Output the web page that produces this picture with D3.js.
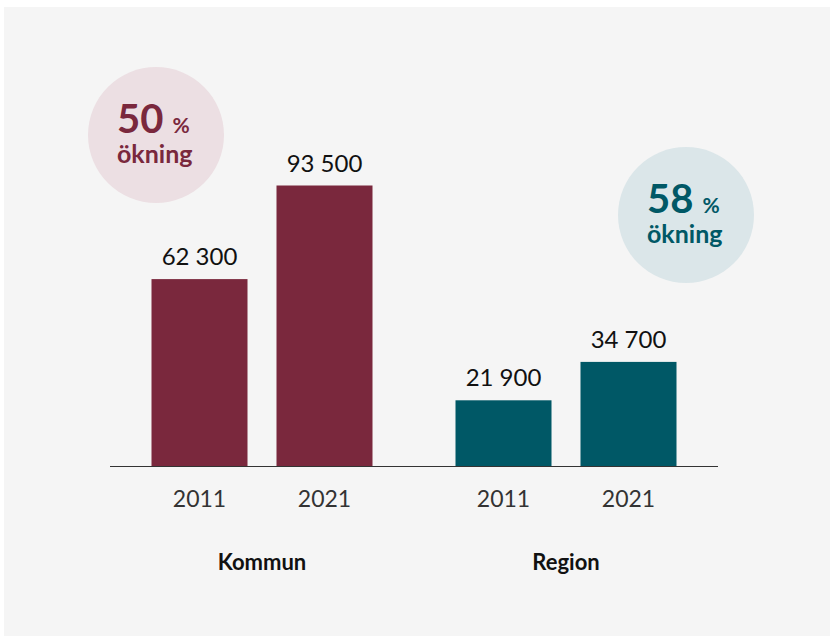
<!DOCTYPE html>
<html><head><meta charset="utf-8">
<script src="https://cdn.jsdelivr.net/npm/d3@7"></script>
<style>
html,body{margin:0;padding:0;background:#fff;}
svg{display:block;font-family:Lato,"Open Sans",sans-serif;}
</style></head>
<body>
<svg id="chart" width="830" height="636"></svg>
<script>
const groups = ["Kommun", "Region"];
const years = ["2011", "2021"];
const kommunValues = [62300, 93500];
const regionValues = [21900, 34700];
const increases = [50, 58];
const colors = ["#7a283d", "#005866"];
const circleFills = ["#ecdfe3", "#dbe6e9"];

const values = [kommunValues, regionValues];
const fmt = v => d3.format(",")(v).replace(/,/g, " ");

const svg = d3.select("#chart");
svg.append("rect").attr("x",4).attr("y",7).attr("width",826).attr("height",629).attr("fill","#f5f5f5");

const baseY = 466;
const y = d3.scaleLinear().domain([0, 100000]).range([baseY, baseY - 300]);
const x0 = d3.scaleBand().domain(groups).range([110, 718]).padding(0);
const x1 = d3.scaleBand().domain(years).range([0, x0.bandwidth()]).paddingInner(0.232).paddingOuter(0.332);

// circles
const circlePos = [[156, 135], [686, 215]];
groups.forEach((g, i) => {
  const [cx, cy] = circlePos[i];
  const gg = svg.append("g");
  gg.append("circle").attr("cx", cx).attr("cy", cy).attr("r", 68).attr("fill", circleFills[i]);
  const t = gg.append("text").attr("x", cx - 39).attr("y", cy - 2).attr("fill", colors[i]).attr("font-weight", 700);
  t.append("tspan").attr("font-size", 40).text(increases[i]);
  t.append("tspan").attr("font-size", 21).attr("dx", 9).text("%");
  gg.append("text").attr("x", cx - 39).attr("y", cy + 28).attr("fill", colors[i]).attr("font-weight", 700).attr("font-size", 25).text("ökning");
});

// bars
groups.forEach((g, i) => {
  const gg = svg.append("g").attr("transform", `translate(${x0(g)},0)`);
  years.forEach((yr, j) => {
    const v = values[i][j];
    gg.append("rect").attr("x", x1(yr)).attr("y", y(v)).attr("width", x1.bandwidth()).attr("height", baseY - y(v)).attr("fill", colors[i]);
    gg.append("text").attr("x", x1(yr) + x1.bandwidth()/2).attr("y", y(v) - 14).attr("text-anchor","middle")
      .attr("font-size", 24).attr("fill", "#111").text(fmt(v));
    gg.append("text").attr("x", x1(yr) + x1.bandwidth()/2).attr("y", 507).attr("text-anchor","middle")
      .attr("font-size", 23).attr("fill", "#333").text(yr);
  });
  gg.append("text").attr("x", x0.bandwidth()/2).attr("y", 570).attr("text-anchor","middle")
    .attr("font-size", 22).attr("font-weight", 700).attr("fill", "#111").text(g);
});

// axis line
svg.append("line").attr("x1", 110).attr("x2", 718).attr("y1", baseY + 0.5).attr("y2", baseY + 0.5).attr("stroke", "#333").attr("stroke-width", 1.2);
</script>
</body></html>
